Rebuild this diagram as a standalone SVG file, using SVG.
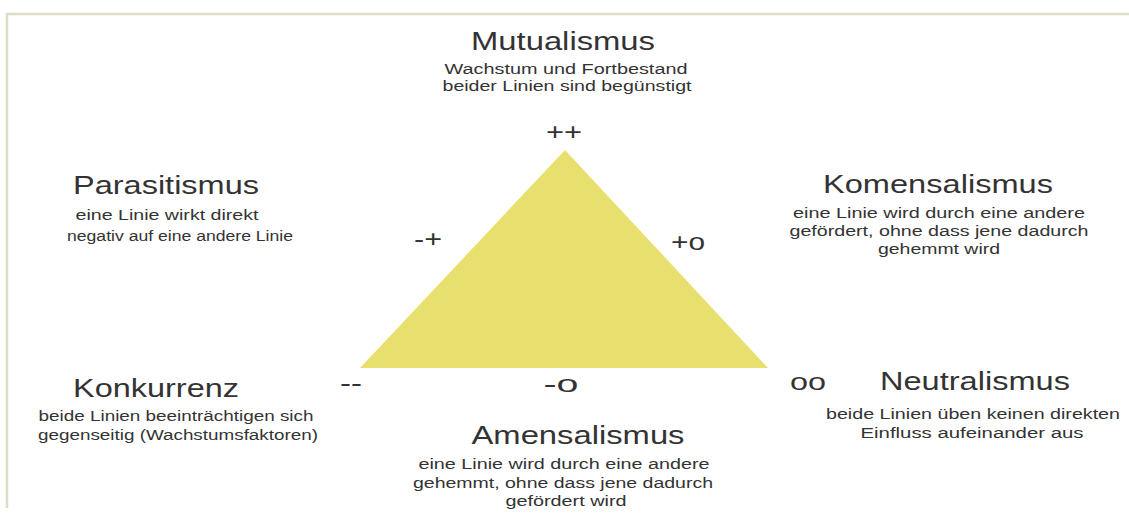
<svg xmlns="http://www.w3.org/2000/svg" width="1129" height="514" viewBox="0 0 1129 514">
<style>
text{font-family:"Liberation Sans",Arial,sans-serif;fill:#333;text-anchor:middle}
.t{font-size:26px}
.s{font-size:15.5px}
.g{font-size:24px}
</style>
<rect width="1129" height="514" fill="#fff"/>
<path d="M7,508 V14 H1129" fill="none" stroke="#e0dcc4" stroke-width="2.5"/>
<polygon id="triangle" points="565,150 360,368 768,368" fill="#e8e06e"/>
<g id="signs">
<text class="g" x="564" y="140" textLength="36" lengthAdjust="spacingAndGlyphs">++</text>
<text class="g" x="428" y="247" textLength="28" lengthAdjust="spacingAndGlyphs">-+</text>
<text class="g" x="688" y="250" textLength="34" lengthAdjust="spacingAndGlyphs">+o</text>
<text class="g" x="351" y="391" textLength="22" lengthAdjust="spacingAndGlyphs">--</text>
<text class="g" x="561" y="392" textLength="35" lengthAdjust="spacingAndGlyphs">-o</text>
<text class="g" x="808" y="390" textLength="36" lengthAdjust="spacingAndGlyphs">oo</text>
</g>
<g id="mutualismus">
<text class="t" x="563" y="50" textLength="184" lengthAdjust="spacingAndGlyphs">Mutualismus</text>
<text class="s" x="566" y="74" textLength="243" lengthAdjust="spacingAndGlyphs">Wachstum und Fortbestand</text>
<text class="s" x="567" y="91" textLength="249" lengthAdjust="spacingAndGlyphs">beider Linien sind begünstigt</text>
</g>
<g id="parasitismus">
<text class="t" x="166" y="194" textLength="186" lengthAdjust="spacingAndGlyphs">Parasitismus</text>
<text class="s" x="167" y="220" textLength="183" lengthAdjust="spacingAndGlyphs">eine Linie wirkt direkt</text>
<text class="s" x="180" y="241" textLength="226" lengthAdjust="spacingAndGlyphs">negativ auf eine andere Linie</text>
</g>
<g id="komensalismus">
<text class="t" x="938" y="193" textLength="230" lengthAdjust="spacingAndGlyphs">Komensalismus</text>
<text class="s" x="939" y="218" textLength="292" lengthAdjust="spacingAndGlyphs">eine Linie wird durch eine andere</text>
<text class="s" x="939" y="236" textLength="299" lengthAdjust="spacingAndGlyphs">gefördert, ohne dass jene dadurch</text>
<text class="s" x="939" y="254" textLength="122" lengthAdjust="spacingAndGlyphs">gehemmt wird</text>
</g>
<g id="konkurrenz">
<text class="t" x="156" y="397" textLength="166" lengthAdjust="spacingAndGlyphs">Konkurrenz</text>
<text class="s" x="176" y="421" textLength="275" lengthAdjust="spacingAndGlyphs">beide Linien beeinträchtigen sich</text>
<text class="s" x="178" y="440" textLength="280" lengthAdjust="spacingAndGlyphs">gegenseitig (Wachstumsfaktoren)</text>
</g>
<g id="neutralismus">
<text class="t" x="975" y="390" textLength="190" lengthAdjust="spacingAndGlyphs">Neutralismus</text>
<text class="s" x="973" y="419" textLength="294" lengthAdjust="spacingAndGlyphs">beide Linien üben keinen direkten</text>
<text class="s" x="972" y="438" textLength="223" lengthAdjust="spacingAndGlyphs">Einfluss aufeinander aus</text>
</g>
<g id="amensalismus">
<text class="t" x="578" y="444" textLength="213" lengthAdjust="spacingAndGlyphs">Amensalismus</text>
<text class="s" x="564" y="469" textLength="291" lengthAdjust="spacingAndGlyphs">eine Linie wird durch eine andere</text>
<text class="s" x="563" y="488" textLength="300" lengthAdjust="spacingAndGlyphs">gehemmt,  ohne dass jene dadurch</text>
<text class="s" x="566" y="506" textLength="121" lengthAdjust="spacingAndGlyphs">gefördert wird</text>
</g>
<g id="connectors"/>
</svg>
